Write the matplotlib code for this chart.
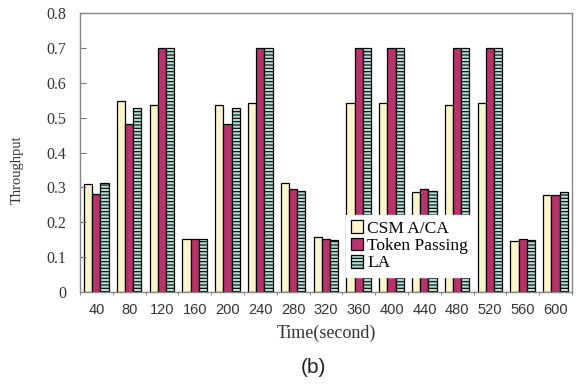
import numpy as np
from matplotlib import pyplot as plt

times = [40, 80, 120, 160, 200, 240, 280, 320, 360, 400, 440, 480, 520, 560, 600]
csma = [0.309, 0.549, 0.536, 0.153, 0.536, 0.541, 0.312, 0.158, 0.541, 0.541, 0.287, 0.537, 0.541, 0.147, 0.279]
token = [0.282, 0.482, 0.700, 0.153, 0.482, 0.700, 0.294, 0.153, 0.700, 0.700, 0.294, 0.700, 0.700, 0.153, 0.279]
la = [0.313, 0.529, 0.700, 0.153, 0.529, 0.700, 0.289, 0.149, 0.700, 0.700, 0.289, 0.700, 0.700, 0.149, 0.287]
series_names = ['CSM A/CA', 'Token Passing', 'LA']


def main():
    plt.rcParams['hatch.color'] = '#2a4a48'
    plt.rcParams['hatch.linewidth'] = 0.8

    fig = plt.figure(figsize=(5.78, 3.88), dpi=100)
    ax = fig.add_axes([0.1384, 0.2474, 0.8512, 0.7191])

    x = np.arange(len(times))
    w = 0.25
    ax.bar(x - w, csma, w, color='#fbf5cc', edgecolor='black', linewidth=0.9, label=series_names[0])
    ax.bar(x, token, w, color='#b8336c', edgecolor='black', linewidth=0.9, label=series_names[1])
    ax.bar(x + w, la, w, color='#b4ddd6', edgecolor='black', linewidth=0.9, hatch='-----',
           label=series_names[2])

    ax.set_xlim(-0.5, len(times) - 0.5)
    ax.set_ylim(0, 0.8)
    ax.set_yticks(np.arange(0, 0.81, 0.1))
    ax.set_yticklabels(['0'] + [f'{v:.1f}' for v in np.arange(0.1, 0.81, 0.1)],
                       family='Liberation Serif', fontsize=11.5, color='#333333')
    ax.tick_params(axis='y', direction='in', length=4, color='#777777', pad=10)

    ax.set_xticks(x)
    ax.set_xticklabels([str(t) for t in times], family='Liberation Sans', fontsize=10.5, color='#333333')
    ax.set_xticks(np.arange(-0.5, len(times)), minor=True)
    ax.tick_params(axis='x', which='major', length=0, pad=8)
    ax.tick_params(axis='x', which='minor', length=2, color='#777777')

    for side in ['top', 'right', 'left', 'bottom']:
        ax.spines[side].set_color('#888888')
        ax.spines[side].set_linewidth(1.0)

    ax.set_ylabel('Throughput', family='Liberation Serif', fontsize=10.5, color='#333333')
    ax.yaxis.set_label_coords(-0.128, 0.437)
    ax.yaxis.label.set_va('center')
    ax.set_xlabel('Time(second)', family='Liberation Serif', fontsize=13, color='#333333')
    ax.xaxis.set_label_coords(0.5, -0.147)
    ax.xaxis.label.set_va('center')

    leg = ax.legend(loc='lower left', bbox_to_anchor=(0.54, 0.055), frameon=True, fancybox=False,
                    prop={'family': 'Liberation Serif', 'size': 12.5}, handlelength=0.7,
                    handleheight=0.75, handletextpad=0.25, labelspacing=0.05, borderpad=0.3,
                    borderaxespad=0)
    leg.get_frame().set_edgecolor('white')
    leg.get_frame().set_facecolor('white')
    leg.get_frame().set_alpha(1)

    fig.text(0.543, 0.052, '(b)', ha='center', va='center', family='Liberation Sans', fontsize=15,
             color='#222222')

    plt.savefig('out.png', dpi=100)


if __name__ == '__main__':
    main()
